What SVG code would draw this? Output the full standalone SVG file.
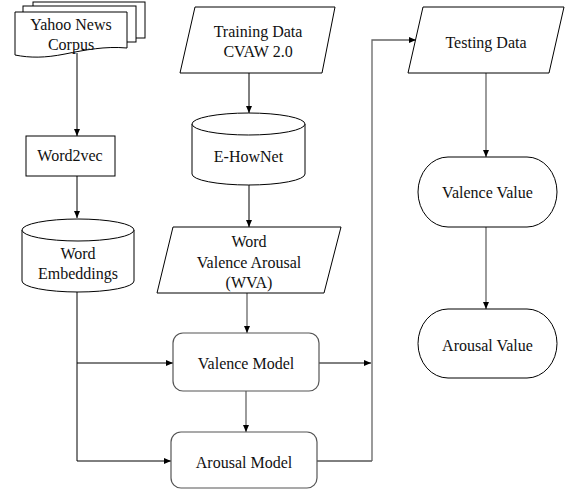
<svg xmlns="http://www.w3.org/2000/svg" width="566" height="490" viewBox="0 0 566 490">
<defs>
<marker id="ah" markerWidth="7" markerHeight="6" refX="7" refY="3" orient="auto" markerUnits="userSpaceOnUse">
<path d="M0,0 L7,3 L0,6 Z" fill="#000"/>
</marker>
<style>
.n{fill:#fff;stroke:#000;stroke-width:1}
.r{fill:#fff;stroke:#555;stroke-width:1.2}
.t{font-family:"Liberation Serif","Times New Roman",serif;font-size:16px;fill:#111;text-anchor:middle}
.c{fill:none;stroke:#000;stroke-width:1}
.g{fill:none;stroke:#666;stroke-width:1.3}
</style>
</defs>
<rect width="566" height="490" fill="#fff"/>
<g id="connectors">
<path class="c" d="M77,53 V136" marker-end="url(#ah)"/>
<path class="c" d="M77,176 V218" marker-end="url(#ah)"/>
<path class="c" d="M249,73 V113" marker-end="url(#ah)"/>
<path class="c" d="M249,185 V227" marker-end="url(#ah)"/>
<path class="g" d="M247,293 V333" marker-end="url(#ah)"/>
<path class="g" d="M246,391 V432" marker-end="url(#ah)"/>
<path class="c" d="M77,292 V461 H171" marker-end="url(#ah)"/>
<path class="c" d="M77,363 H173" marker-end="url(#ah)"/>
<path class="c" d="M319,363 H371" marker-end="url(#ah)"/>
<path class="c" d="M317,461 H372"/>
<path class="g" d="M372,461 V40 H416" marker-end="url(#ah)"/>
<path class="g" d="M486,73 V157" marker-end="url(#ah)"/>
<path class="g" d="M486,227 V309" marker-end="url(#ah)"/>
</g>
<g id="yahoo">
<rect class="n" x="33" y="2" width="112" height="36"/>
<rect class="n" x="23" y="6" width="113" height="36"/>
<path class="n" d="M15,12 H127 V48 C105,46 85,50 65,54 C45,58 30,58 15,55 Z"/>
<text class="t" x="71" y="30">Yahoo News</text>
<text class="t" x="71" y="50">Corpus</text>
</g>
<g id="word2vec">
<rect class="n" x="26" y="136" width="89" height="40"/>
<text class="t" x="70" y="161">Word2vec</text>
</g>
<g id="embeddings">
<path class="n" d="M22,230 A56,11 0 0 1 134,230 V281 A56,11 0 0 1 22,281 Z"/>
<path class="n" d="M22,230 A56,11 0 0 0 134,230" fill="none"/>
<text class="t" x="78" y="259">Word</text>
<text class="t" x="78" y="279">Embeddings</text>
</g>
<g id="training">
<path class="n" d="M195,7 H335 L322,73 H180 Z"/>
<text class="t" x="258" y="37">Training Data</text>
<text class="t" x="258" y="57">CVAW 2.0</text>
</g>
<g id="ehownet">
<path class="n" d="M192,124 A56.5,11 0 0 1 305,124 V174 A56.5,11 0 0 1 192,174 Z"/>
<path class="n" d="M192,124 A56.5,11 0 0 0 305,124" fill="none"/>
<text class="t" x="248.5" y="162">E-HowNet</text>
</g>
<g id="wva">
<path class="n" d="M173,227 H341 L324,293 H157 Z"/>
<text class="t" x="249" y="247">Word</text>
<text class="t" x="249" y="268">Valence Arousal</text>
<text class="t" x="249" y="288">(WVA)</text>
</g>
<g id="valence-model">
<rect class="r" x="173" y="333" width="146" height="58" rx="10"/>
<text class="t" x="246" y="369">Valence Model</text>
</g>
<g id="arousal-model">
<rect class="r" x="171" y="432" width="146" height="56" rx="10"/>
<text class="t" x="244" y="468">Arousal Model</text>
</g>
<g id="testing">
<path class="n" d="M423,7 H564 L549,73 H408 Z"/>
<text class="t" x="486" y="48">Testing Data</text>
</g>
<g id="valence-value">
<rect class="n" x="418" y="157" width="139" height="70" rx="30" ry="35"/>
<text class="t" x="487.5" y="198">Valence Value</text>
</g>
<g id="arousal-value">
<rect class="n" x="418" y="309" width="139" height="69" rx="30" ry="34.5"/>
<text class="t" x="487.5" y="351">Arousal Value</text>
</g>
</svg>
